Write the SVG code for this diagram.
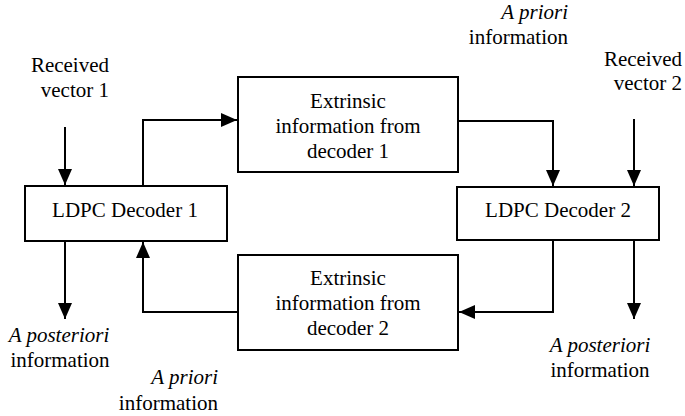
<svg xmlns="http://www.w3.org/2000/svg" width="685" height="416" viewBox="0 0 685 416">
  <style>
    .box { fill: #fff; stroke: #000; stroke-width: 2; }
    .wire { fill: none; stroke: #000; stroke-width: 2; marker-end: url(#head); }
    .c { text-anchor: middle; }
    .r { text-anchor: end; }
    .i { font-style: italic; }
  </style>
  <defs>
    <marker id="head" markerUnits="userSpaceOnUse" markerWidth="16" markerHeight="14" refX="16" refY="7" orient="auto">
      <path d="M0,0 L16,7 L0,14 z" fill="#000"/>
    </marker>
  </defs>

  <rect width="685" height="416" fill="#fff"/>

  <!-- connectors -->
  <g id="connectors">
    <path class="wire" d="M65,127 V185"/>
    <path class="wire" d="M143,186 V120 H237"/>
    <path class="wire" d="M458,121 H553 V186"/>
    <path class="wire" d="M634,119 V186"/>
    <path class="wire" d="M65,241 V319"/>
    <path class="wire" d="M634,241 V319"/>
    <path class="wire" d="M553,241 V312 H459"/>
    <path class="wire" d="M238,312 H143 V242"/>
  </g>

  <g font-family="'Liberation Serif', serif" font-size="21" fill="#000">
    <!-- decoder 1 -->
    <g id="decoder1">
      <rect class="box" x="25" y="186" width="202" height="55"/>
      <text class="c" x="125" y="217">LDPC Decoder 1</text>
    </g>

    <!-- extrinsic info from decoder 1 -->
    <g id="extrinsic1">
      <rect class="box" x="238" y="77" width="220" height="95"/>
      <text class="c" x="348" y="108">Extrinsic</text>
      <text class="c" x="348" y="133">information from</text>
      <text class="c" x="348" y="158">decoder 1</text>
    </g>

    <!-- decoder 2 -->
    <g id="decoder2">
      <rect class="box" x="457" y="187" width="202" height="53"/>
      <text class="c" x="558" y="217">LDPC Decoder 2</text>
    </g>

    <!-- extrinsic info from decoder 2 -->
    <g id="extrinsic2">
      <rect class="box" x="238" y="255" width="220" height="95"/>
      <text class="c" x="348" y="285">Extrinsic</text>
      <text class="c" x="348" y="310">information from</text>
      <text class="c" x="348" y="335">decoder 2</text>
    </g>

    <!-- labels -->
    <g id="label-received1">
      <text class="r" x="109" y="72">Received</text>
      <text class="r" x="109" y="97">vector 1</text>
    </g>
    <g id="label-received2">
      <text class="r" x="682" y="66">Received</text>
      <text class="r" x="682" y="90">vector 2</text>
    </g>
    <g id="label-apriori-top">
      <text class="r i" x="568" y="19">A priori</text>
      <text class="r" x="568" y="44">information</text>
    </g>
    <g id="label-apriori-bottom">
      <text class="r i" x="218" y="384">A priori</text>
      <text class="r" x="218" y="410">information</text>
    </g>
    <g id="label-posteriori1">
      <text class="c i" x="59" y="342">A posteriori</text>
      <text class="c" x="60" y="367">information</text>
    </g>
    <g id="label-posteriori2">
      <text class="c i" x="600" y="352">A posteriori</text>
      <text class="c" x="600" y="377">information</text>
    </g>
  </g>
</svg>
